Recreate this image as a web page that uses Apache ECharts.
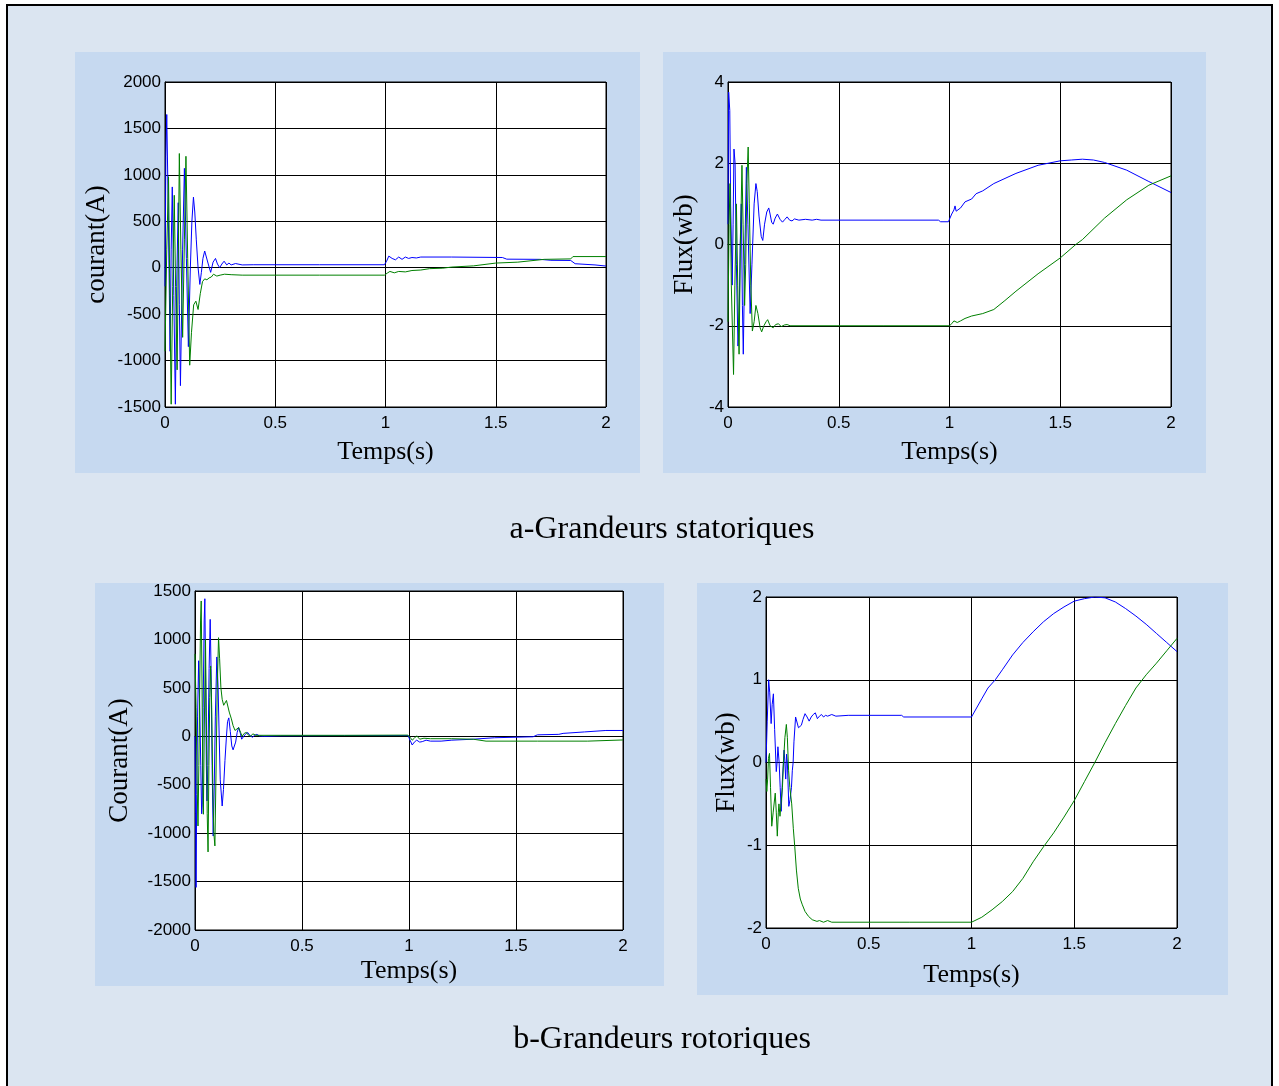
<!DOCTYPE html>
<html>
<head>
<meta charset="utf-8">
<title>Grandeurs statoriques et rotoriques</title>
<script src="https://cdn.jsdelivr.net/npm/echarts@6/dist/echarts.min.js"></script>
<style>
  html, body { margin: 0; padding: 0; background: #fff; }
  #chart { width: 1279px; height: 1086px; }
</style>
</head>
<body>
<div id="chart"></div>
<script>
// ---- data: [temps (s), valeur] ----
const statorCurrentBlue = [
  [0, -200], [0.004, 1200], [0.008, 1650], [0.015, 600], [0.023, -900], [0.028, 200], [0.033, 870],
  [0.04, -300], [0.047, -1470], [0.053, -200], [0.06, 700], [0.065, -400], [0.07, -1270], [0.08, 200],
  [0.088, 1070], [0.097, 100], [0.106, -850], [0.115, 0], [0.122, 500], [0.129, 760], [0.135, 600],
  [0.142, 300], [0.15, 0], [0.158, -180], [0.165, -50], [0.172, 100], [0.18, 180], [0.186, 170],
  [0.195, 50], [0.207, -50], [0.218, 60], [0.229, 100], [0.238, 40], [0.248, 0], [0.258, 40],
  [0.268, 70], [0.28, 30], [0.29, 50], [0.3, 30], [0.32, 45], [0.35, 30], [0.4, 32], [0.7, 32],
  [0.995, 32], [1.005, 70], [1.015, 125], [1.03, 100], [1.045, 85], [1.06, 115], [1.075, 90],
  [1.09, 115], [1.105, 100], [1.12, 110], [1.14, 105], [1.16, 115], [1.3, 115], [1.53, 110],
  [1.55, 92], [1.7, 90], [1.75, 80], [1.84, 78], [1.86, 43], [1.95, 30], [2.0, 18]
];
const statorCurrentGreen = [
  [0, -900], [0.008, 200], [0.016, 980], [0.022, -300], [0.028, -1470], [0.035, -200], [0.042, 780],
  [0.048, -200], [0.055, -1100], [0.06, 0], [0.065, 1230], [0.072, 200], [0.08, -750], [0.088, 300],
  [0.095, 1200], [0.103, 100], [0.112, -1050], [0.12, -700], [0.13, -400], [0.14, -360], [0.15, -450],
  [0.16, -280], [0.17, -150], [0.18, -120], [0.19, -130], [0.2, -110], [0.21, -100], [0.22, -70],
  [0.235, -90], [0.25, -80], [0.27, -70], [0.3, -75], [0.35, -80], [0.7, -80], [0.995, -80],
  [1.01, -55], [1.02, -40], [1.04, -55], [1.06, -40], [1.09, -45], [1.12, -30], [1.16, -25],
  [1.2, -10], [1.26, -5], [1.3, 7], [1.4, 20], [1.5, 50], [1.6, 60], [1.72, 90], [1.84, 95],
  [1.85, 120], [2.0, 120]
];
const statorFluxBlue = [
  [0, 0.5], [0.003, 3.75], [0.008, 3.3], [0.012, 1.0], [0.019, -1.0], [0.023, 0.5], [0.027, 2.35],
  [0.032, 2.0], [0.038, -0.5], [0.045, -2.5], [0.05, -2.0], [0.055, 0], [0.06, 1.0], [0.065, -1.5],
  [0.069, -2.7], [0.075, -0.5], [0.083, 1.9], [0.09, 0.5], [0.1, -1.7], [0.108, -0.5], [0.118, 1.0],
  [0.126, 1.5], [0.132, 1.3], [0.14, 0.7], [0.15, 0.2], [0.157, 0.1], [0.165, 0.5], [0.175, 0.8],
  [0.184, 0.9], [0.19, 0.75], [0.197, 0.55], [0.204, 0.5], [0.213, 0.65], [0.223, 0.75], [0.235, 0.62],
  [0.246, 0.55], [0.257, 0.62], [0.267, 0.68], [0.278, 0.6], [0.289, 0.58], [0.3, 0.63], [0.32, 0.6],
  [0.35, 0.62], [0.38, 0.6], [0.4, 0.62], [0.42, 0.6], [0.7, 0.6], [0.95, 0.6], [0.96, 0.56],
  [0.995, 0.56], [1.0, 0.58], [1.01, 0.75], [1.02, 0.85], [1.025, 0.95], [1.03, 0.82], [1.05, 0.9],
  [1.07, 1.05], [1.1, 1.12], [1.12, 1.25], [1.15, 1.32], [1.2, 1.5], [1.3, 1.75], [1.4, 1.95],
  [1.5, 2.06], [1.55, 2.08], [1.6, 2.1], [1.65, 2.08], [1.7, 2.02], [1.8, 1.83], [1.9, 1.55], [2.0, 1.28]
];
const statorFluxGreen = [
  [0, -1.9], [0.005, 0.5], [0.009, 1.5], [0.015, -1.0], [0.025, -3.2], [0.031, -1.0], [0.038, 1.0],
  [0.044, -1.0], [0.05, -2.7], [0.056, 0], [0.063, 1.95], [0.068, 0.5], [0.075, -1.5], [0.08, -0.5],
  [0.085, 1.5], [0.091, 2.4], [0.096, 1.0], [0.103, -1.0], [0.11, -2.13], [0.118, -1.9], [0.126, -1.5],
  [0.135, -1.7], [0.145, -2.05], [0.152, -2.15], [0.162, -2.0], [0.172, -1.9], [0.179, -1.85],
  [0.19, -2.0], [0.204, -2.05], [0.215, -1.97], [0.228, -1.95], [0.24, -2.02], [0.255, -1.98],
  [0.267, -1.97], [0.28, -2.0], [0.7, -2.0], [1.0, -2.0], [1.01, -1.95], [1.02, -1.88], [1.035, -1.92],
  [1.05, -1.88], [1.07, -1.82], [1.1, -1.76], [1.15, -1.7], [1.2, -1.6], [1.25, -1.38], [1.3, -1.15],
  [1.4, -0.72], [1.5, -0.33], [1.57, 0], [1.6, 0.12], [1.7, 0.65], [1.8, 1.1], [1.9, 1.46], [2.0, 1.69]
];
const rotorCurrentBlue = [
  [0, 0], [0.003, -800], [0.005, -1560], [0.008, -600], [0.012, 200], [0.017, 780], [0.022, 300],
  [0.027, -300], [0.031, -800], [0.034, -700], [0.038, 300], [0.043, 1200], [0.046, 1420], [0.05, 500],
  [0.053, -300], [0.056, -668], [0.06, -300], [0.066, 700], [0.071, 1207], [0.075, 700], [0.08, -300],
  [0.085, -1030], [0.09, -500], [0.095, 200], [0.102, 819], [0.108, 500], [0.113, 0], [0.118, -450],
  [0.127, -720], [0.133, -550], [0.14, -250], [0.147, 0], [0.152, 150], [0.158, 190], [0.165, 50],
  [0.172, -100], [0.178, -140], [0.184, -150], [0.19, -60], [0.197, 40], [0.204, 90], [0.212, 30],
  [0.218, -30], [0.224, -50], [0.235, 20], [0.246, 40], [0.256, 10], [0.268, -10], [0.279, 10],
  [0.289, 20], [0.3, 5], [0.32, 0], [0.4, 5], [0.7, 8], [0.995, 8], [1.005, -40], [1.015, -90],
  [1.025, -60], [1.036, -40], [1.05, -60], [1.062, -55], [1.08, -40], [1.1, -50], [1.15, -50],
  [1.2, -40], [1.3, -30], [1.4, -15], [1.58, -5], [1.6, 15], [1.7, 20], [1.72, 30], [1.82, 45],
  [1.92, 60], [2.0, 60]
];
const rotorCurrentGreen = [
  [0, 850], [0.005, 300], [0.01, -500], [0.014, -926], [0.018, -300], [0.022, 500], [0.026, 1200],
  [0.029, 1397], [0.033, 500], [0.036, -300], [0.039, -805], [0.043, 0], [0.049, 1000], [0.053, 200],
  [0.057, -800], [0.061, -1194], [0.065, -300], [0.069, 400], [0.073, 726], [0.078, 300], [0.083, -500],
  [0.088, -1000], [0.093, -1132], [0.098, -400], [0.104, 500], [0.11, 1018], [0.115, 800], [0.121, 500],
  [0.127, 382], [0.134, 320], [0.141, 300], [0.147, 370], [0.153, 360], [0.16, 250], [0.17, 180],
  [0.178, 110], [0.187, 60], [0.195, 80], [0.204, 90], [0.213, 40], [0.22, 0], [0.23, 30], [0.24, 40],
  [0.25, 10], [0.26, 0], [0.27, 25], [0.285, 10], [0.3, 10], [0.7, 10], [0.995, 12], [1.005, -10],
  [1.015, -40], [1.025, -20], [1.036, 5], [1.05, -30], [1.07, -20], [1.1, -25], [1.2, -25], [1.3, -30],
  [1.36, -50], [1.6, -50], [1.835, -50], [1.84, -38], [2.0, -38]
];
const rotorFluxBlue = [
  [0, 0], [0.006, 0.5], [0.013, 1.0], [0.018, 0.85], [0.025, 0.47], [0.03, 0.7], [0.036, 0.83],
  [0.042, 0.4], [0.05, -0.11], [0.054, 0.0], [0.058, 0.19], [0.064, 0.0], [0.069, -0.3], [0.074, -0.59],
  [0.08, -0.2], [0.088, 0.15], [0.092, 0.0], [0.096, -0.2], [0.1, 0.1], [0.104, 0.0], [0.111, -0.53],
  [0.117, -0.45], [0.124, -0.3], [0.128, -0.1], [0.132, 0.0], [0.136, 0.25], [0.144, 0.55], [0.15, 0.55],
  [0.158, 0.42], [0.165, 0.4], [0.172, 0.45], [0.18, 0.52], [0.19, 0.59], [0.2, 0.55], [0.21, 0.5],
  [0.22, 0.55], [0.23, 0.58], [0.24, 0.6], [0.25, 0.53], [0.26, 0.56], [0.27, 0.58], [0.28, 0.55],
  [0.29, 0.57], [0.3, 0.56], [0.32, 0.58], [0.34, 0.56], [0.4, 0.57], [0.66, 0.57], [0.67, 0.55],
  [1.0, 0.55], [1.05, 0.77], [1.08, 0.9], [1.116, 1.0], [1.15, 1.12], [1.2, 1.3], [1.25, 1.45],
  [1.3, 1.58], [1.35, 1.7], [1.4, 1.8], [1.45, 1.88], [1.5, 1.95], [1.55, 1.98], [1.6, 2.0],
  [1.65, 1.99], [1.7, 1.94], [1.75, 1.86], [1.8, 1.77], [1.85, 1.67], [1.9, 1.56], [1.95, 1.45], [2.0, 1.34]
];
const rotorFluxGreen = [
  [0, -0.2], [0.004, -0.35], [0.008, -0.2], [0.012, 0.05], [0.017, 0.11], [0.022, -0.3], [0.028, -0.77],
  [0.035, -0.6], [0.045, -0.37], [0.05, -0.6], [0.055, -0.89], [0.06, -0.6], [0.063, -0.5], [0.068, -0.65],
  [0.073, -0.5], [0.08, -0.3], [0.085, 0.0], [0.092, 0.3], [0.099, 0.46], [0.104, 0.3], [0.11, -0.1],
  [0.116, -0.3], [0.125, -0.5], [0.133, -0.8], [0.14, -1.02], [0.148, -1.3], [0.157, -1.52], [0.167, -1.65],
  [0.177, -1.72], [0.19, -1.8], [0.207, -1.86], [0.225, -1.9], [0.248, -1.92], [0.26, -1.91], [0.28, -1.93],
  [0.3, -1.91], [0.32, -1.93], [0.7, -1.93], [1.0, -1.93], [1.05, -1.87], [1.1, -1.78], [1.15, -1.68],
  [1.2, -1.56], [1.25, -1.4], [1.3, -1.2], [1.35, -1.02], [1.4, -0.85], [1.45, -0.66], [1.5, -0.46],
  [1.55, -0.23], [1.6, 0.0], [1.65, 0.24], [1.7, 0.47], [1.75, 0.69], [1.8, 0.9], [1.85, 1.06],
  [1.9, 1.2], [1.95, 1.35], [2.0, 1.5]
];

const captions = ['a-Grandeurs statoriques', 'b-Grandeurs rotoriques'];
const yNames = ['courant(A)', 'Flux(wb)', 'Courant(A)', 'Flux(wb)'];
const yRanges = [[-1500, 2000, 500], [-4, 4, 2], [-2000, 1500, 500], [-2, 2, 1]];

const BLUE = '#0000ff';
const GREEN = '#008000';
const SERIF = "'Liberation Serif', 'Times New Roman', serif";
const SANS = "'Liberation Sans', Arial, sans-serif";

// plot areas of the four panels
const grids = [
  { left: 165, top: 82, width: 441, height: 325 },
  { left: 728, top: 82, width: 443, height: 325 },
  { left: 195, top: 591, width: 428, height: 339 },
  { left: 766, top: 597, width: 411, height: 331 }
]
const yNameGaps = [55, 30, 62, 26]
const xNameGaps = [32, 32, 28, 34]

const chart = echarts.init(document.getElementById('chart'))

const gridLine = { lineStyle: { color: '#000', width: 1 } }

const option = {
  animation: false,
  backgroundColor: '#fff',
  graphic: [
    { type: 'rect', z: -100, shape: { x: 7, y: 5, width: 1265, height: 1100 },
      style: { fill: '#dbe5f1', stroke: '#000', lineWidth: 2 } },
    { type: 'rect', z: -90, shape: { x: 75, y: 52, width: 565, height: 421 }, style: { fill: '#c6d9f0' } },
    { type: 'rect', z: -90, shape: { x: 663, y: 52, width: 543, height: 421 }, style: { fill: '#c6d9f0' } },
    { type: 'rect', z: -90, shape: { x: 95, y: 583, width: 569, height: 403 }, style: { fill: '#c6d9f0' } },
    { type: 'rect', z: -90, shape: { x: 697, y: 583, width: 531, height: 412 }, style: { fill: '#c6d9f0' } },
    { type: 'text', x: 662, y: 530, style: { text: captions[0], fill: '#000', font: '32px ' + SERIF,
      textAlign: 'center', textVerticalAlign: 'middle' } },
    { type: 'text', x: 662, y: 1040, style: { text: captions[1], fill: '#000', font: '32px ' + SERIF,
      textAlign: 'center', textVerticalAlign: 'middle' } }
  ],
  grid: grids.map(g => ({
    ...g,
    show: true,
    backgroundColor: '#fff',
    borderColor: '#000',
    borderWidth: 1
  })),
  xAxis: grids.map((g, i) => ({
    type: 'value',
    gridIndex: i,
    min: 0,
    max: 2,
    interval: 0.5,
    name: 'Temps(s)',
    nameLocation: 'middle',
    nameGap: xNameGaps[i],
    nameTextStyle: { color: '#000', fontFamily: SERIF, fontSize: 26 },
    axisLine: { show: true, lineStyle: { color: '#000', width: 1 } },
    axisTick: { show: false },
    axisLabel: { color: '#000', fontFamily: SANS, fontSize: 17, margin: 8, formatter: v => String(v) },
    splitLine: gridLine
  })),
  yAxis: grids.map((g, i) => ({
    type: 'value',
    gridIndex: i,
    min: yRanges[i][0],
    max: yRanges[i][1],
    interval: yRanges[i][2],
    name: yNames[i],
    nameLocation: 'middle',
    nameGap: yNameGaps[i],
    nameTextStyle: { color: '#000', fontFamily: SERIF, fontSize: 27 },
    axisLine: { show: true, lineStyle: { color: '#000', width: 1 } },
    axisTick: { show: false },
    axisLabel: { color: '#000', fontFamily: SANS, fontSize: 17, margin: 4, formatter: v => String(v) },
    splitLine: gridLine
  })),
  series: [
    [statorCurrentBlue, 0, BLUE], [statorCurrentGreen, 0, GREEN],
    [statorFluxBlue, 1, BLUE], [statorFluxGreen, 1, GREEN],
    [rotorCurrentBlue, 2, BLUE], [rotorCurrentGreen, 2, GREEN],
    [rotorFluxBlue, 3, BLUE], [rotorFluxGreen, 3, GREEN]
  ].map(([data, idx, color]) => ({
    type: 'line',
    xAxisIndex: idx,
    yAxisIndex: idx,
    data: data,
    showSymbol: false,
    symbol: 'none',
    lineStyle: { color: color, width: 1 },
    itemStyle: { color: color }
  }))
}

chart.setOption(option)
</script>
</body>
</html>
